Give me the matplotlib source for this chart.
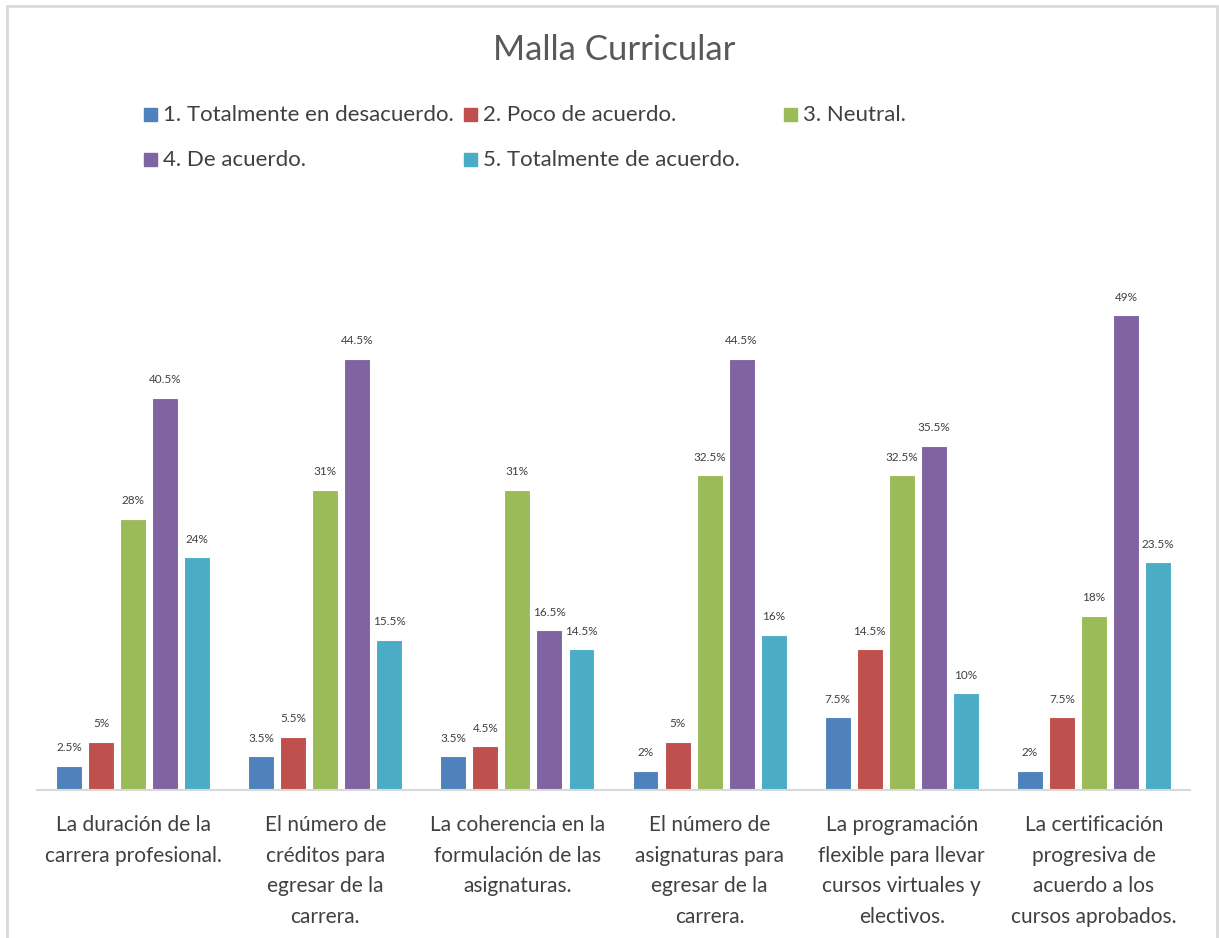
import numpy as np
import matplotlib.pyplot as plt
from matplotlib.patches import Rectangle

# datos
categorias = [
    "La duración de la\ncarrera profesional.",
    "El número de\ncréditos para\negresar de la\ncarrera.",
    "La coherencia en la\nformulación de las\nasignaturas.",
    "El número de\nasignaturas para\negresar de la\ncarrera.",
    "La programación\nflexible para llevar\ncursos virtuales y\nelectivos.",
    "La certificación\nprogresiva de\nacuerdo a los\ncursos aprobados.",
]
series = [
    "1. Totalmente en desacuerdo.",
    "2. Poco de acuerdo.",
    "3. Neutral.",
    "4. De acuerdo.",
    "5. Totalmente de acuerdo.",
]
totalmente_desacuerdo = [2.5, 3.5, 3.5, 2, 7.5, 2]
poco_acuerdo = [5, 5.5, 4.5, 5, 14.5, 7.5]
neutral = [28, 31, 31, 32.5, 32.5, 18]
de_acuerdo = [40.5, 44.5, 16.5, 44.5, 35.5, 49]
totalmente_acuerdo = [24, 15.5, 14.5, 16, 10, 23.5]
valores = [totalmente_desacuerdo, poco_acuerdo, neutral, de_acuerdo, totalmente_acuerdo]

colores = ["#4F81BD", "#C0504D", "#9BBB59", "#8064A2", "#4BACC6"]
gris_texto = "#404040"

plt.rcParams['font.family'] = ['Lato', 'DejaVu Sans']

W, H = 1219, 938
fig = plt.figure(figsize=(W / 100, H / 100), dpi=100)

# borde del grafico
fig.patches.append(Rectangle((7 / W, -0.1), (1217 - 7) / W, 1.1 - 6.5 / H,
                             transform=fig.transFigure, fill=False,
                             edgecolor="#D9D9D9", linewidth=2))

ax = fig.add_axes([37 / W, 148 / H, (1190 - 37) / W, 533 / H])

x = np.arange(len(categorias))
paso = 0.1667
ancho = 0.135
for i, (nombre, vals) in enumerate(zip(series, valores)):
    barras = ax.bar(x + (i - 2) * paso, vals, ancho, color=colores[i],
                    edgecolor="white", linewidth=0.8, label=nombre)
    ax.bar_label(barras, labels=[f"{v:g}%" for v in vals], padding=9,
                 fontsize=8.5, color=gris_texto)

ax.set_xlim(-0.5, len(categorias) - 0.5)
ax.set_ylim(0, 55)
ax.set_yticks([])
for lado in ["top", "right", "left"]:
    ax.spines[lado].set_visible(False)
ax.spines["bottom"].set_color("#D9D9D9")
ax.spines["bottom"].set_linewidth(1.5)
ax.set_xticks(x)
ax.set_xticklabels(categorias, fontsize=15, color=gris_texto, linespacing=1.66)
ax.tick_params(axis="x", length=0, pad=18)

fig.text(614 / W, 1 - 50 / H, "Malla Curricular", ha="center", va="center",
         fontsize=25, color="#595959")

# leyenda manual (posiciones como en Excel)
pos_leyenda = [(144, 115), (464, 115), (784, 115), (144, 160), (464, 160)]
for (px, py), nombre, c in zip(pos_leyenda, series, colores):
    fig.patches.append(Rectangle((px / W, 1 - (py + 6.5) / H), 13 / W, 13 / H,
                                 transform=fig.transFigure, color=c))
    fig.text((px + 19) / W, 1 - py / H, nombre, ha="left", va="center",
             fontsize=16, color=gris_texto)

fig.savefig("out.png", dpi=100)
